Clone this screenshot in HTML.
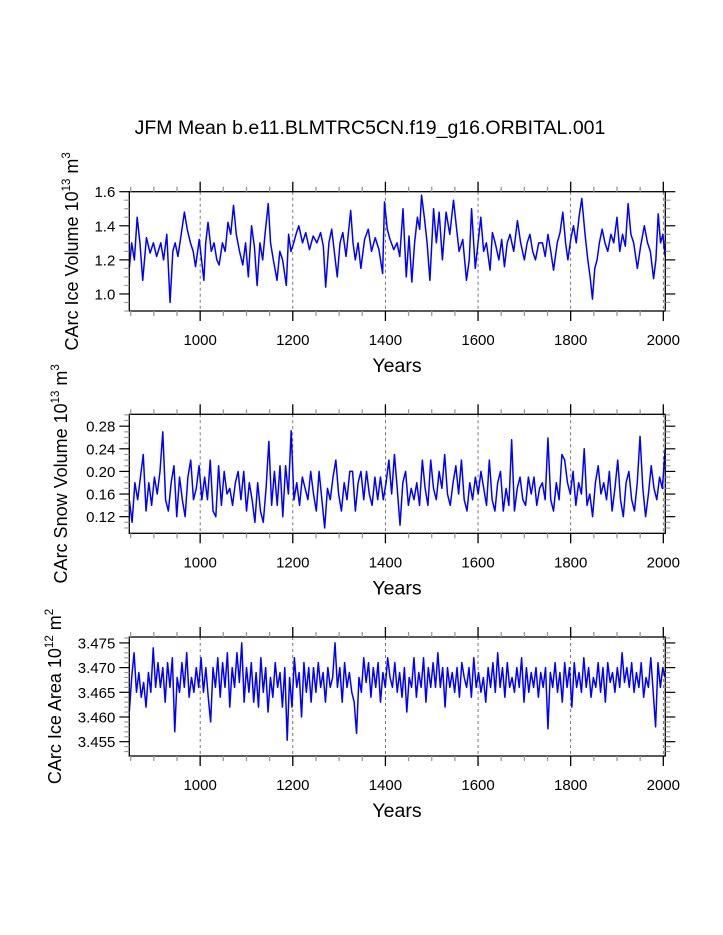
<!DOCTYPE html>
<html><head><meta charset="utf-8"><style>
html,body{margin:0;padding:0;background:#fff;}
svg{display:block;font-family:"Liberation Sans",Arial,sans-serif;}
</style></head><body>
<svg id="chart" width="723" height="935" viewBox="0 0 723 935" xmlns="http://www.w3.org/2000/svg">
<text x="370" y="134" font-size="19.5" text-anchor="middle">JFM Mean b.e11.BLMTRC5CN.f19_g16.ORBITAL.001</text>
</svg>
<script>
// ---- Data ----
const iceVolYears=[847,852,858,864,870,876,884,892,899,906,915,921,928,935,941,946,952,958,966,972,979,985,990,998,1008,1012,1017,1024,1030,1036,1041,1048,1054,1060,1066,1072,1078,1085,1092,1098,1104,1111,1117,1123,1129,1135,1140,1147,1152,1158,1166,1172,1178,1186,1191,1196,1202,1208,1213,1221,1228,1236,1244,1252,1260,1266,1271,1278,1284,1290,1296,1302,1308,1315,1325,1330,1335,1341,1347,1355,1363,1370,1378,1386,1394,1398,1404,1410,1418,1425,1431,1438,1445,1451,1457,1463,1469,1474,1478,1484,1490,1496,1504,1510,1516,1523,1531,1539,1547,1553,1559,1567,1575,1581,1586,1594,1600,1606,1612,1618,1626,1631,1637,1645,1651,1657,1663,1669,1677,1685,1692,1700,1706,1712,1718,1724,1731,1739,1745,1751,1757,1763,1771,1777,1783,1789,1794,1800,1806,1812,1818,1824,1831,1837,1842,1847,1852,1857,1862,1868,1874,1880,1887,1893,1900,1906,1912,1918,1924,1930,1936,1944,1951,1959,1966,1972,1979,1984,1989,1994,1999,2004];
const iceVol=[1.15,1.3,1.2,1.45,1.3,1.08,1.33,1.24,1.3,1.22,1.3,1.2,1.35,0.95,1.25,1.3,1.22,1.33,1.48,1.38,1.3,1.25,1.16,1.32,1.08,1.3,1.42,1.25,1.3,1.2,1.17,1.3,1.25,1.42,1.35,1.52,1.35,1.25,1.17,1.3,1.1,1.4,1.28,1.05,1.3,1.2,1.35,1.53,1.3,1.2,1.08,1.25,1.2,1.05,1.35,1.25,1.3,1.36,1.4,1.3,1.36,1.26,1.34,1.3,1.36,1.28,1.04,1.3,1.38,1.24,1.1,1.3,1.36,1.22,1.49,1.3,1.2,1.3,1.15,1.32,1.38,1.25,1.33,1.26,1.12,1.54,1.38,1.32,1.26,1.3,1.22,1.5,1.1,1.34,1.07,1.3,1.45,1.38,1.58,1.45,1.3,1.08,1.5,1.3,1.48,1.2,1.48,1.35,1.55,1.4,1.25,1.32,1.08,1.2,1.5,1.15,1.3,1.45,1.25,1.3,1.14,1.36,1.3,1.2,1.32,1.16,1.3,1.35,1.25,1.43,1.3,1.2,1.3,1.35,1.25,1.2,1.3,1.3,1.22,1.35,1.25,1.14,1.3,1.36,1.48,1.3,1.2,1.32,1.4,1.3,1.45,1.56,1.35,1.2,1.1,0.97,1.15,1.2,1.3,1.38,1.3,1.25,1.35,1.3,1.45,1.25,1.35,1.28,1.53,1.35,1.3,1.15,1.28,1.4,1.3,1.25,1.09,1.2,1.47,1.3,1.35,1.22];
// snow & area values are read at evenly spaced years between these bounds
const snowFirstYear=847, snowLastYear=2004;
const snow=[0.15,0.11,0.18,0.15,0.19,0.23,0.13,0.18,0.14,0.19,0.16,0.2,0.27,0.15,0.13,0.18,0.21,0.12,0.19,0.15,0.12,0.19,0.22,0.15,0.17,0.21,0.15,0.19,0.15,0.22,0.13,0.12,0.21,0.14,0.2,0.16,0.17,0.14,0.18,0.2,0.15,0.2,0.13,0.18,0.15,0.11,0.18,0.13,0.11,0.17,0.253,0.14,0.2,0.14,0.21,0.12,0.21,0.16,0.272,0.15,0.18,0.14,0.19,0.17,0.15,0.2,0.16,0.13,0.2,0.15,0.1,0.17,0.15,0.19,0.22,0.16,0.13,0.18,0.15,0.2,0.2,0.13,0.18,0.2,0.15,0.2,0.16,0.14,0.19,0.15,0.19,0.15,0.18,0.22,0.16,0.23,0.17,0.105,0.18,0.2,0.14,0.17,0.15,0.18,0.14,0.22,0.17,0.14,0.22,0.17,0.15,0.2,0.17,0.23,0.16,0.14,0.18,0.21,0.16,0.22,0.15,0.13,0.18,0.15,0.19,0.16,0.2,0.17,0.14,0.22,0.15,0.13,0.18,0.2,0.13,0.17,0.14,0.256,0.13,0.17,0.19,0.15,0.14,0.19,0.16,0.19,0.14,0.17,0.18,0.15,0.259,0.15,0.13,0.18,0.15,0.23,0.22,0.18,0.16,0.2,0.14,0.18,0.16,0.24,0.14,0.16,0.12,0.18,0.21,0.16,0.18,0.15,0.2,0.13,0.17,0.22,0.15,0.12,0.18,0.2,0.15,0.13,0.18,0.262,0.17,0.12,0.16,0.21,0.17,0.15,0.19,0.17,0.24];
const areaFirstYear=847, areaLastYear=2004;
const area=[3.461,3.468,3.473,3.465,3.469,3.464,3.467,3.462,3.469,3.465,3.474,3.466,3.471,3.466,3.47,3.463,3.471,3.466,3.472,3.457,3.468,3.465,3.471,3.466,3.473,3.464,3.468,3.465,3.47,3.466,3.472,3.465,3.47,3.464,3.459,3.47,3.466,3.472,3.464,3.471,3.466,3.473,3.462,3.47,3.466,3.473,3.467,3.475,3.463,3.47,3.465,3.471,3.463,3.469,3.462,3.472,3.465,3.47,3.461,3.468,3.464,3.471,3.466,3.469,3.462,3.47,3.4553,3.468,3.462,3.472,3.466,3.469,3.46,3.471,3.465,3.47,3.463,3.47,3.465,3.471,3.466,3.469,3.463,3.47,3.466,3.468,3.475,3.466,3.47,3.463,3.471,3.466,3.469,3.465,3.463,3.4567,3.468,3.465,3.472,3.467,3.471,3.464,3.47,3.466,3.471,3.463,3.469,3.466,3.472,3.468,3.466,3.471,3.465,3.469,3.464,3.47,3.461,3.468,3.466,3.472,3.464,3.469,3.466,3.472,3.463,3.47,3.466,3.471,3.466,3.473,3.466,3.47,3.462,3.47,3.466,3.469,3.465,3.47,3.464,3.471,3.468,3.466,3.47,3.464,3.472,3.466,3.469,3.465,3.468,3.463,3.47,3.466,3.471,3.465,3.473,3.466,3.47,3.464,3.471,3.466,3.468,3.465,3.47,3.466,3.472,3.463,3.47,3.465,3.469,3.466,3.47,3.464,3.469,3.466,3.47,3.4576,3.469,3.466,3.471,3.465,3.469,3.463,3.471,3.466,3.47,3.462,3.471,3.466,3.469,3.465,3.472,3.466,3.47,3.464,3.468,3.466,3.471,3.465,3.47,3.463,3.471,3.467,3.469,3.465,3.47,3.466,3.473,3.467,3.47,3.466,3.471,3.465,3.469,3.466,3.471,3.464,3.468,3.466,3.472,3.465,3.458,3.471,3.466,3.47,3.468];
const xTicks=[1000,1200,1400,1600,1800,2000];
const iceVolTicks=["1.0","1.2","1.4","1.6"];
const snowTicks=["0.12","0.16","0.20","0.24","0.28"];
const areaTicks=["3.455","3.460","3.465","3.470","3.475"];

function spanYears(first,last,n){const out=[];for(let i=0;i<n;i++)out.push(first+(last-first)*i/(n-1));return out;}

const NS="http://www.w3.org/2000/svg";
const svg=document.getElementById('chart');
const X0=129.3,X1=665.3,XMIN=847,XMAX=2004.3;
function xs(v){return X0+(v-XMIN)/(XMAX-XMIN)*(X1-X0);}
function mk(tag,attrs,parent){const e=document.createElementNS(NS,tag);for(const k in attrs)e.setAttribute(k,attrs[k]);(parent||svg).appendChild(e);return e;}

function panel(cfg){
  const g=mk('g',{});
  
  
  const T=cfg.top,B=cfg.bot;
  const ys=v=>B-(v-cfg.ymin)/(cfg.ymax-cfg.ymin)*(B-T);
  xTicks.forEach(t=>{
    const l=mk('line',{x1:xs(t),x2:xs(t),y1:T,y2:B,stroke:'#555','stroke-width':0.8,'stroke-dasharray':'3,3'},g);
    
    
  });
  const n=Math.min(cfg.years.length,cfg.vals.length);
  let d='';
  for(let i=0;i<n;i++){d+=(i?'L':'M')+xs(cfg.years[i]).toFixed(2)+','+ys(cfg.vals[i]).toFixed(2);}
  const p=mk('path',{d:d,fill:'none',stroke:'#0000ff','stroke-width':1.5,'stroke-linejoin':'round'},g);
  
  
  const f=mk('rect',{x:X0,y:T,width:X1-X0,height:B-T,fill:'none',stroke:'#000','stroke-width':1.3},g);
  
  
  for(let yr=850;yr<=2000;yr+=50){
    const maj=yr%200===0, len=maj?10:5, x=xs(yr);
    mk('line',{x1:x,x2:x,y1:T,y2:T-len,stroke:maj?'#000':'#999','stroke-width':1.3},g);
    mk('line',{x1:x,x2:x,y1:B,y2:B+len,stroke:maj?'#000':'#999','stroke-width':1.3},g);
  }
  xTicks.forEach(t=>{
    const tx=mk('text',{x:xs(t),y:B+34,'font-size':15,'text-anchor':'middle'},g);
    tx.textContent=t;
    
    
  });
  const start=Math.ceil(cfg.ymin/cfg.minor-1e-6);
  for(let k=start;k*cfg.minor<=cfg.ymax+1e-9;k++){
    const v=k*cfg.minor; const y=ys(v);
    const maj=Math.abs(v/cfg.major-Math.round(v/cfg.major))<1e-6;
    const len=maj?10:5;
    mk('line',{x1:X0,x2:X0-len,y1:y,y2:y,stroke:maj?'#000':'#999','stroke-width':1.2},g);
    mk('line',{x1:X1,x2:X1+len,y1:y,y2:y,stroke:maj?'#000':'#999','stroke-width':1.2},g);
  }
  cfg.ticks.forEach(s=>{
    const tx=mk('text',{x:X0-14,y:ys(parseFloat(s))+5.5,'font-size':15,'text-anchor':'end'},g);
    tx.textContent=s;
    
    
  });
  const xt=mk('text',{x:397,y:B+61,'font-size':19.5,'text-anchor':'middle'},g);
  xt.textContent='Years';
  
  
  const cy=(T+B)/2;
  const yt=mk('text',{x:cfg.titleX,y:cy,'font-size':18,'text-anchor':'middle',transform:`rotate(-90 ${cfg.titleX} ${cy})`},g);
  
  
  yt.innerHTML=cfg.title;
}
panel({name:'ice-volume-panel',top:191.7,bot:311,ymin:0.9,ymax:1.6,major:0.2,minor:0.05,years:iceVolYears,vals:iceVol,ticks:iceVolTicks,titleX:78,
  title:'CArc Ice Volume 10<tspan font-size="11.5" dy="-8">13</tspan><tspan dy="8"> m</tspan><tspan font-size="11.5" dy="-8">3</tspan>'});
panel({name:'snow-volume-panel',top:414.3,bot:533.3,ymin:0.0906,ymax:0.301,major:0.04,minor:0.01,years:spanYears(snowFirstYear,snowLastYear,snow.length),vals:snow,ticks:snowTicks,titleX:67,
  title:'CArc Snow Volume 10<tspan font-size="11.5" dy="-8">13</tspan><tspan dy="8"> m</tspan><tspan font-size="11.5" dy="-8">3</tspan>'});
panel({name:'ice-area-panel',top:637,bot:756,ymin:3.4521,ymax:3.4762,major:0.005,minor:0.001,years:spanYears(areaFirstYear,areaLastYear,area.length),vals:area,ticks:areaTicks,titleX:61,
  title:'CArc Ice Area 10<tspan font-size="11.5" dy="-8">12</tspan><tspan dy="8"> m</tspan><tspan font-size="11.5" dy="-8">2</tspan>'});
</script>
</body></html>
